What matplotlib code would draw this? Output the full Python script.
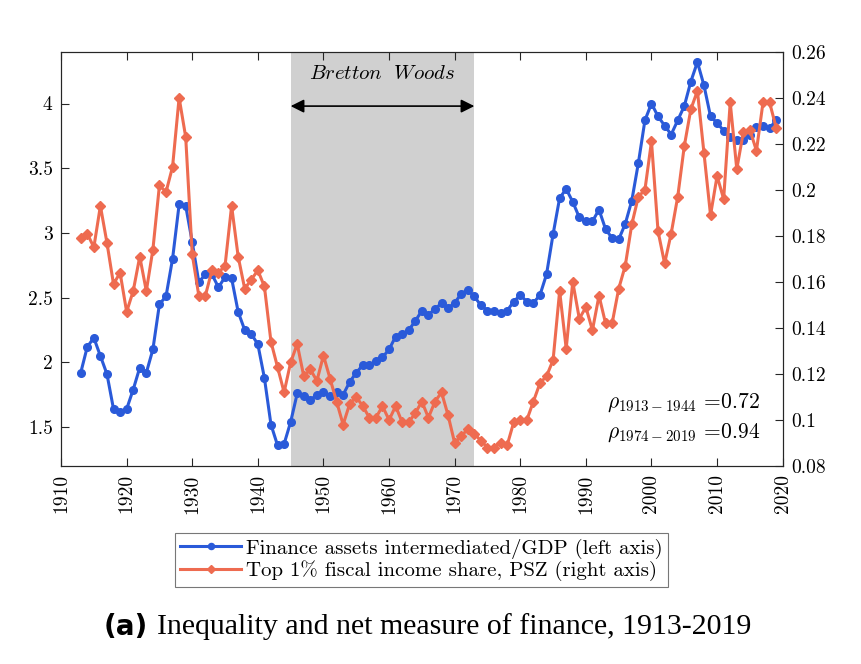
import numpy as np
import matplotlib
matplotlib.use("Agg")
import matplotlib.pyplot as plt
from matplotlib.ticker import FuncFormatter

plt.rcParams["font.family"] = ["cmr10", "DejaVu Serif"]
plt.rcParams["mathtext.fontset"] = "cm"
plt.rcParams["axes.formatter.use_mathtext"] = True

years = np.arange(1913, 2020)

# finance assets intermediated / GDP (left axis)
finance = [
    1.92, 2.12, 2.19, 2.05, 1.91, 1.64, 1.62, 1.64, 1.79, 1.96,
    1.92, 2.10, 2.45, 2.51, 2.80, 3.22, 3.21, 2.93, 2.62, 2.68,
    2.68, 2.58, 2.66, 2.65, 2.39, 2.25, 2.22, 2.14, 1.88, 1.52,
    1.36, 1.37, 1.54, 1.76, 1.74, 1.71, 1.75, 1.77, 1.74, 1.77,
    1.75, 1.85, 1.92, 1.98, 1.98, 2.01, 2.04, 2.10, 2.20, 2.22,
    2.25, 2.32, 2.40, 2.37, 2.41, 2.46, 2.42, 2.46, 2.53, 2.56,
    2.51, 2.44, 2.40, 2.40, 2.38, 2.40, 2.47, 2.52, 2.47, 2.46,
    2.52, 2.68, 2.99, 3.27, 3.34, 3.24, 3.12, 3.09, 3.09, 3.18,
    3.03, 2.96, 2.95, 3.07, 3.25, 3.54, 3.87, 4.00, 3.90, 3.83,
    3.76, 3.87, 3.98, 4.17, 4.32, 4.14, 3.90, 3.85, 3.79, 3.74,
    3.72, 3.72, 3.76, 3.82, 3.83, 3.81, 3.87,
]

# top 1% fiscal income share, PSZ (right axis)
top1 = [
    0.179, 0.181, 0.175, 0.193, 0.177, 0.159, 0.164, 0.147, 0.156, 0.171,
    0.156, 0.174, 0.202, 0.199, 0.210, 0.240, 0.223, 0.172, 0.154, 0.154,
    0.165, 0.164, 0.167, 0.193, 0.171, 0.157, 0.161, 0.165, 0.158, 0.134,
    0.123, 0.112, 0.125, 0.133, 0.119, 0.122, 0.117, 0.128, 0.118, 0.108,
    0.098, 0.107, 0.110, 0.106, 0.101, 0.101, 0.106, 0.100, 0.106, 0.099,
    0.099, 0.103, 0.108, 0.101, 0.108, 0.112, 0.102, 0.090, 0.093, 0.096,
    0.094, 0.091, 0.088, 0.088, 0.090, 0.089, 0.099, 0.100, 0.100, 0.108,
    0.116, 0.119, 0.126, 0.156, 0.131, 0.160, 0.144, 0.149, 0.139, 0.154,
    0.142, 0.142, 0.157, 0.167, 0.185, 0.197, 0.200, 0.221, 0.182, 0.168,
    0.181, 0.197, 0.219, 0.235, 0.243, 0.216, 0.189, 0.206, 0.196, 0.238,
    0.209, 0.225, 0.226, 0.217, 0.238, 0.238, 0.227,
]

bw_start, bw_end = 1945, 1973
x_ticks = np.arange(1910, 2021, 10)
left_ticks = [1.5, 2, 2.5, 3, 3.5, 4]
right_ticks = np.arange(0.08, 0.261, 0.02)

blue = "#2a5ad9"
red = "#ee6b50"
axis_col = "#262626"

fig = plt.figure(figsize=(8.62, 6.64), dpi=100)
ax = fig.add_axes([0.0708, 0.2982, 0.8372, 0.6239])
ax2 = ax.twinx()

ax.axvspan(bw_start, bw_end, color="#d0d0d0", lw=0, zorder=0)

l1, = ax.plot(years, finance, "-o", color=blue, lw=2.2, ms=5.5,
              label="Finance assets intermediated/GDP (left axis)", zorder=3)
l2, = ax2.plot(years, top1, "-D", color=red, lw=2.2, ms=5,
               label="Top 1% fiscal income share, PSZ (right axis)", zorder=3)

ax.set_xlim(1910, 2020)
ax.set_ylim(1.2, 4.4)
ax2.set_ylim(0.08, 0.26)
ax.set_xticks(x_ticks)
ax.set_xticklabels([str(t) for t in x_ticks], rotation=90)
ax.set_yticks(left_ticks)
ax2.set_yticks(right_ticks)
ax.yaxis.set_major_formatter(FuncFormatter(lambda v, p: f"{v:g}"))
ax2.yaxis.set_major_formatter(FuncFormatter(lambda v, p: f"{round(v, 2):g}"))

for a in (ax, ax2):
    a.tick_params(direction="in", length=5.5, width=0.8, colors=axis_col,
                  labelsize=14, labelcolor="black")
    for s in a.spines.values():
        s.set_color(axis_col)
        s.set_linewidth(0.8)
ax.tick_params(top=True, pad=6)
ax2.tick_params(pad=6)

# Bretton Woods arrow and label
ax.annotate("", xy=(bw_start, 3.98), xytext=(bw_end, 3.98),
            arrowprops=dict(arrowstyle="<|-|>", color="black", lw=1.2,
                            mutation_scale=20, shrinkA=0, shrinkB=0))
ax.text((bw_start + bw_end) / 2, 4.23, r"$\it{Bretton}\ \ \it{Woods}$",
        ha="center", va="center", fontsize=15)

ax.text(2016.6, 1.69, r"$\rho_{1913-1944}$ =0.72", ha="right", va="center", fontsize=15.5)
ax.text(2016.6, 1.46, r"$\rho_{1974-2019}$ =0.94", ha="right", va="center", fontsize=15.5)

leg = fig.legend(handles=[l1, l2], loc="upper center", bbox_to_anchor=(0.489, 0.197),
                 borderaxespad=0, fontsize=15, frameon=True, fancybox=False,
                 edgecolor="#555555", handlelength=2.9, handletextpad=0.25,
                 borderpad=0.25, labelspacing=0.1, markerscale=0.8)
leg.get_frame().set_linewidth(0.8)

fig.text(0.171, 0.056, "(a)", ha="right", va="center", fontsize=20,
         fontweight="bold", family="DejaVu Sans")
fig.text(0.182, 0.056, "Inequality and net measure of finance, 1913-2019",
         ha="left", va="center", fontsize=21.5, family="Liberation Serif")

fig.savefig("out.png", dpi=100)
